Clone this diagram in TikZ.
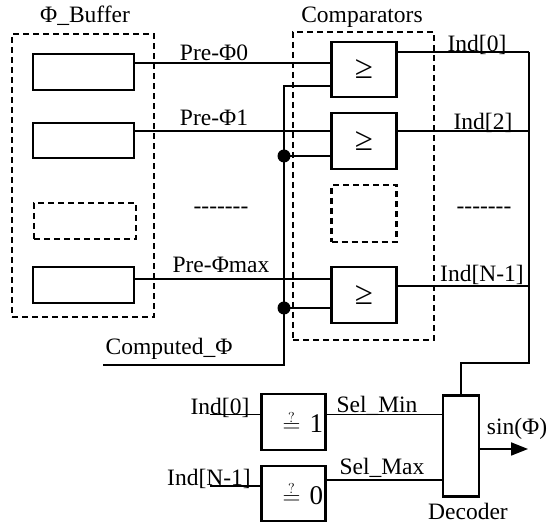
\documentclass[tikz,border=0pt]{standalone}
\usepackage{fontspec}
\setmainfont{Liberation Serif}
\usetikzlibrary{arrows.meta}
\begin{document}
\begin{tikzpicture}[x=1pt,y=-1pt,
  every node/.style={inner sep=0pt, outer sep=0pt, font=\fontsize{23.5}{28}\selectfont},
  blk/.style={draw, line width=2.6pt},
  ghost/.style={draw, line width=2.2pt, dash pattern=on 6pt off 4pt},
  wire/.style={line width=1.8pt},
  lbl/.style={anchor=base},
  cmpsym/.style={font=\fontsize{33}{36}\selectfont},
  eqbox/.style={blk, text width=59pt, align=right, font=\fontsize{27}{30}\selectfont},
  dot/.style={circle, fill, minimum size=13pt}
]
\useasboundingbox (0,0) rectangle (555,526);

% group frames
\node[ghost, minimum width=142pt, minimum height=283pt] (bufgrp) at (83,175.5) {};
\node[ghost, minimum width=141pt, minimum height=308pt] (cmpgrp) at (363.5,186) {};

% phase buffer registers
\node[blk, minimum width=101pt, minimum height=36pt] (b0) at (83.5,72) {};
\node[blk, minimum width=101pt, minimum height=35pt] (b1) at (83.5,140.5) {};
\node[ghost, minimum width=102pt, minimum height=36pt] (bd) at (85,221) {};
\node[blk, minimum width=101pt, minimum height=36pt] (bN) at (83.5,285) {};

% comparators
\node[blk, cmpsym, minimum width=65pt, minimum height=55pt] (c0) at (364,69.5) {≥};
\node[blk, cmpsym, minimum width=65pt, minimum height=56pt] (c1) at (364,141) {≥};
\node[ghost, minimum width=65pt, minimum height=57pt] (cd) at (364,213.5) {};
\node[blk, cmpsym, minimum width=65pt, minimum height=56pt] (cN) at (364,295) {≥};

% equality checks and decoder
\node[eqbox, minimum width=64pt, minimum height=56pt] (eq1) at (293.5,422) {$\stackrel{\scriptscriptstyle ?}{=}$ 1};
\node[eqbox, minimum width=64pt, minimum height=55pt] (eq0) at (293.5,493.5) {$\stackrel{\scriptscriptstyle ?}{=}$ 0};
\node[blk, minimum width=36pt, minimum height=101pt] (dec) at (461,446) {};

% comparator input points
\coordinate (c0a) at (332,63);
\coordinate (c0b) at (332,86);
\coordinate (c1a) at (332,131);
\coordinate (c1b) at (332,156);
\coordinate (cNa) at (332,279);
\coordinate (cNb) at (332,308);

% buffered phases into comparators
\draw[wire] (b0.east |- c0a) -- (c0a);
\draw[wire] (b1.east |- c1a) -- (c1a);
\draw[wire] (bN.east |- cNa) -- (cNa);

% computed phase distribution
\coordinate (cphi) at (103,365);
\coordinate (cbend) at (284,365);
\node[dot] (j1) at (284,156) {};
\node[dot] (jN) at (284,308) {};
\draw[wire] (cphi) -- (cbend) -- (cbend |- c0b) -- (c0b);
\draw[wire] (j1.center) -- (c1b);
\draw[wire] (jN.center) -- (cNb);

% comparator outputs and bus to decoder
\coordinate (o0) at (529,52);
\coordinate (o1) at (529,131);
\coordinate (oN) at (529,286);
\coordinate (busB) at (529,363);
\draw[wire] (c0.east |- o0) -- (o0);
\draw[wire] (c1.east |- o1) -- (o1);
\draw[wire] (cN.east |- oN) -- (oN);
\draw[wire] (o0) -- (busB) -| (dec.north);

% selection logic
\coordinate (i0) at (210,414.5);
\coordinate (iN) at (210,486);
\coordinate (smax) at (0,480);
\draw[wire] (i0) -- (eq1.west |- i0);
\draw[wire] (iN) -- (eq0.west |- iN);
\draw[wire] (eq1.east |- i0) -- (dec.west |- i0);
\draw[wire] (eq0.east |- smax) -- (dec.west |- smax);
\coordinate (sout) at (528,449);
\draw[wire, -{Triangle[length=17pt,width=13pt]}] (dec.east |- sout) -- (sout);

% labels
\node[lbl] (tbuf) at (85,23) {Φ\_Buffer};
\node[lbl] (tcmp) at (362,23) {Comparators};
\node[lbl] (tp0) at (214,61) {Pre-Φ0};
\node[lbl] (tp1) at (214,126) {Pre-Φ1};
\node[lbl] (tpN) at (221,273) {Pre-Φmax};
\node[lbl] (tdl) at (221,213.5) {-{}-{}-{}-{}-{}-{}-};
\node[lbl] (tdr) at (484,213.5) {-{}-{}-{}-{}-{}-{}-};
\node[lbl] (ti0) at (477,52) {Ind[0]};
\node[lbl] (ti2) at (483,130) {Ind[2]};
\node[lbl] (tiN) at (482,282) {Ind[N-1]};
\node[lbl] (tcphi) at (169,355) {Computed\_Φ};
\node[lbl] (tli0) at (220,415) {Ind[0]};
\node[lbl] (tliN) at (209,486) {Ind[N-1]};
\node[lbl] (tsmin) at (377,413) {Sel\_Min};
\node[lbl] (tsmax) at (382,475) {Sel\_Max};
\node[lbl] (tsin) at (517,435) {sin(Φ)};
\node[lbl] (tdec) at (468,520) {Decoder};
\end{tikzpicture}
\end{document}
